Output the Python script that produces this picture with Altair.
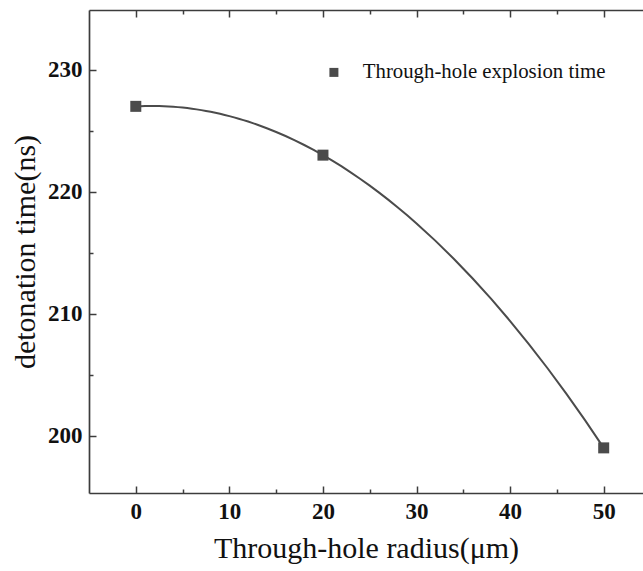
import altair as alt
import pandas as pd

# ---- data ----
radius = [0, 20, 50]
det_time = [227, 223, 199]
series = ["Through-hole explosion time"] * 3

x_major = [0, 10, 20, 30, 40, 50]
x_minor = [5, 15, 25, 35, 45]
y_major = [200, 210, 220, 230]
y_minor = [205, 215, 225]

df = pd.DataFrame({"radius": radius, "time": det_time, "series": series})

FONT = "Liberation Serif"
INK = "#3c3c3c"
MARK = "#4b4b4b"

xs = alt.Scale(domain=[-5, 54.2], nice=False, zero=False)
ys = alt.Scale(domain=[195.3, 234.9], nice=False, zero=False)

AX = dict(grid=False, domainColor=INK, domainWidth=1.7, tickColor=INK, tickWidth=1.5,
          labelFont=FONT, labelFontSize=23, labelFontWeight="bold", labelColor="#111111",
          titleFont=FONT, titleFontSize=30, titleFontWeight="normal", titleColor="#111111")

x_main = alt.Axis(orient="bottom", values=x_major, tickSize=alt.ExprRef(expr="-7"),
                  labelPadding=14, title="Through-hole radius(μm)", titlePadding=10,
                  format="d", **AX)
x_min = alt.Axis(orient="bottom", values=x_minor, tickSize=alt.ExprRef(expr="-4"),
                 labels=False, domain=False, title=None, **AX)
x_top = alt.Axis(orient="top", values=x_major, tickSize=alt.ExprRef(expr="-7"),
                 labels=False, title=None, **AX)
x_top_min = alt.Axis(orient="top", values=x_minor, tickSize=alt.ExprRef(expr="-4"),
                     labels=False, domain=False, title=None, **AX)

y_main = alt.Axis(orient="left", values=y_major, tickSize=alt.ExprRef(expr="-7"),
                  labelPadding=14, title="detonation time(ns)", titlePadding=7,
                  format="d", **AX)
y_min = alt.Axis(orient="left", values=y_minor, tickSize=alt.ExprRef(expr="-4"),
                 labels=False, domain=False, title=None, **AX)

base = alt.Chart(df)

line = base.transform_regression(
    "radius", "time", method="poly", order=2, extent=[0, 50]
).mark_line(color=MARK, strokeWidth=2).encode(
    x=alt.X("radius:Q", scale=xs, axis=x_min),
    y=alt.Y("time:Q", scale=ys, axis=y_min),
)

pts = base.mark_square(size=121, opacity=1).encode(
    x=alt.X("radius:Q", scale=xs, axis=x_main),
    y=alt.Y("time:Q", scale=ys, axis=y_main),
    color=alt.Color(
        "series:N",
        scale=alt.Scale(range=[MARK]),
        legend=alt.Legend(
            orient="none", legendX=234.5, legendY=52, title=None,
            symbolType="square", symbolSize=81, symbolStrokeWidth=0,
            labelFont=FONT, labelFontSize=20.8, labelColor="#111111",
            labelOffset=18.5, labelLimit=0, padding=0,
        ),
    ),
)

top1 = base.mark_square(opacity=0).encode(
    x=alt.X("radius:Q", scale=xs, axis=x_top),
    y=alt.Y("time:Q", scale=ys, axis=None),
)
top2 = base.mark_square(opacity=0).encode(
    x=alt.X("radius:Q", scale=xs, axis=x_top_min),
    y=alt.Y("time:Q", scale=ys, axis=None),
)

chart = alt.layer(line, pts, top1, top2).resolve_axis(
    x="independent", y="independent"
).properties(
    width=554, height=483,
    padding={"left": 89, "top": 10, "right": 0, "bottom": 78},
    autosize=alt.AutoSizeParams(type="none"),
    background="white",
).configure_view(stroke=None)

chart.save("out.html", embed_options={"renderer": "svg", "actions": False})
